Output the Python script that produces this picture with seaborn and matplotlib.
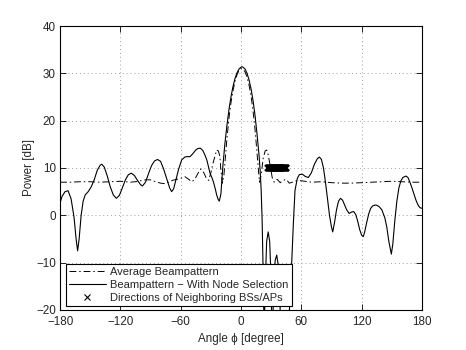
import numpy as np
import pandas as pd
import matplotlib
matplotlib.use("Agg")
import matplotlib.pyplot as plt
import seaborn as sns
from matplotlib.lines import Line2D

# =========================
# Data
# =========================
avg_angle = [-180, -170, -160, -150, -140, -130, -120, -110, -105, -100, -95, -90,
             -85, -80, -76, -72, -68, -64, -60, -56, -52, -49, -46, -43, -40, -37,
             -34, -32, -30, -27.5, -24.2, -22.5, -21, -20, -18.5, -17, -16, -14, -12,
             -10, -8, -6, -4, -2, 0, 2, 4, 6, 8, 10, 12, 14, 16, 17.5, 18.5, 20, 22,
             24, 25.5, 27, 29, 31, 33, 36, 39, 42, 45, 48, 51, 55, 60, 70, 80, 90,
             100, 110, 120, 130, 140, 150, 160, 170, 180]
avg_power = [7.0, 7.0, 7.1, 7.1, 7.0, 7.1, 7.2, 7.0, 7.1, 7.3, 7.5, 7.5,
             7.1, 6.8, 6.7, 7.0, 7.4, 7.6, 7.8, 8.2, 7.6, 7.1, 7.6, 8.8, 9.8, 9.0,
             7.6, 7.4, 9.0, 11.3, 13.8, 13.6, 12.4, 9.5, 6.8, 8.5, 11.0, 16.2, 20.5,
             23.8, 26.3, 28.3, 29.7, 30.6, 31.0, 30.9, 30.3, 29.2, 27.5, 25.2, 22.0,
             18.0, 13.0, 9.0, 7.0, 8.5, 12.0, 13.6, 13.8, 12.8, 10.5, 8.0, 7.0, 7.6,
             6.9, 7.4, 7.6, 6.8, 7.0, 7.3, 7.3, 7.0, 7.1, 6.9, 6.8, 6.8, 6.9, 7.0,
             7.1, 7.2, 7.1, 7.0, 7.0]

sel_angle = [-180, -178, -175, -172, -169, -166, -164, -162.5, -161, -159, -157, -155,
             -152, -149, -146, -143, -140, -138.5, -136, -133, -130, -127, -124, -121,
             -118, -115, -112, -109, -106, -103, -100, -98, -95, -92, -89, -86, -83,
             -80, -77, -74, -71, -69, -67, -65.6, -62, -59, -56, -54, -50.7, -48, -45,
             -43, -40.5, -38, -36, -34, -32, -30.8, -29, -27.5, -25.5, -24.2, -22.8,
             -21.6, -20, -19, -18, -16, -14, -12, -10, -8, -6, -4, -2, 0, 1, 2, 4, 6,
             8, 10, 12, 14, 16, 18, 19, 20, 21, 22, 23, 24.5, 25.5, 27, 28.5, 30, 31,
             32.5, 34, 35.5, 37, 39, 41, 44, 47, 49, 50.4, 52, 53.7, 56, 58, 61, 64,
             67, 70, 73, 76, 78, 80, 82, 84, 86, 88, 90, 91.2, 93, 95, 97, 99, 101,
             103, 105, 107.5, 110, 112, 114, 116, 118, 120, 121.6, 123, 125, 127, 129,
             131, 134, 137, 140, 143, 145, 147, 149.5, 151, 153, 155, 157, 159, 161,
             164, 166, 168, 170, 172, 174, 176, 178, 180]
sel_power = [2.6, 4.0, 5.0, 5.2, 3.5, -0.5, -5.0, -7.5, -5.0, 0.0, 3.0, 4.3,
             5.0, 6.0, 7.5, 9.5, 10.6, 10.8, 10.2, 8.3, 6.0, 4.3, 3.6, 4.2,
             5.8, 7.5, 8.6, 8.9, 8.4, 7.4, 6.5, 6.2, 7.0, 8.8, 10.5, 11.5, 11.8,
             11.4, 9.8, 7.8, 5.8, 5.0, 5.6, 6.8, 9.8, 11.7, 12.3, 12.4, 12.4, 13.0, 13.8,
             14.1, 14.2, 13.7, 12.8, 11.7, 10.0, 8.9, 8.0, 7.1, 5.5, 4.3, 3.4,
             3.0, 4.5, 7.5, 10.5, 15.2, 19.0, 22.3, 25.0, 27.2, 28.9, 30.1, 30.9, 31.3,
             31.4, 31.3, 30.9, 30.0, 28.6, 26.7, 24.2, 21.0, 17.0, 12.5, 9.5, 5.5, -1.0,
             -12.0, -25.0, -12.0, -5.5, -3.5, -5.5, -14.0, -30.0, -14.0, -9.5, -8.4,
             -10.5, -20.0, -30.0, -35.0, -25.0, -16.0, -10.1, -2.0, 5.3, 7.8, 8.6, 8.7,
             8.2, 8.0, 9.0, 10.8, 12.0, 12.3, 11.8, 10.0, 7.0, 3.5, 0.0, -2.5, -3.5,
             -1.5, 1.2, 3.0, 3.6, 3.2, 2.2, 1.2, 0.4, 0.7, 0.8, 0.2, -1.2, -3.0, -4.2,
             -4.5, -3.5, -1.5, 0.3, 1.5, 2.0, 2.2, 1.9, 1.2, -0.5, -2.5, -5.5, -8.2,
             -6.0, -1.0, 3.0, 5.8, 7.3, 8.0, 8.3, 8.0, 7.0, 5.8, 4.5, 3.2, 2.2, 1.6, 1.5]

nb_angle = [27, 27.5, 28, 28.5, 29, 29.5, 30, 30.5, 31, 31.5, 32, 32.5, 33, 33.5,
            34, 34.5, 35, 35.5, 36, 36.5, 37, 37.5, 38, 38.5, 39, 39.5, 40, 40.5,
            41, 41.5, 42, 42.5, 43, 43.5, 44, 44.5, 45]
nb_power = [10] * len(nb_angle)

x_ticks = [-180, -120, -60, 0, 60, 120, 180]
y_ticks = [-20, -10, 0, 10, 20, 30, 40]

# =========================
# Setup
# =========================
sns.set_theme(style="ticks")
plt.rcParams["font.family"] = ["Liberation Sans", "DejaVu Sans"]
plt.rcParams["axes.linewidth"] = 0.8
FS = 8.0

df_avg = pd.DataFrame({"angle": avg_angle, "power": avg_power})
df_sel = pd.DataFrame({"angle": sel_angle, "power": sel_power})
df_nb = pd.DataFrame({"angle": nb_angle, "power": nb_power})

fig = plt.figure(figsize=(4.66, 3.5), dpi=100)
ax = fig.add_axes([0.1288, 0.1143, 0.7768, 0.8114])

sns.lineplot(data=df_avg, x="angle", y="power", ax=ax, color="black",
             linewidth=0.7, sort=False, estimator=None)
ax.lines[-1].set_dashes([7, 3, 1.5, 3])
sns.lineplot(data=df_sel, x="angle", y="power", ax=ax, color="black",
             linewidth=0.8, sort=False, estimator=None)
ax.plot(df_nb["angle"], df_nb["power"], linestyle="none", marker="x",
        color="black", markersize=5, markeredgewidth=1.6)

# =========================
# Styling
# =========================
ax.set_xlim(-180, 180)
ax.set_ylim(-20, 40)
ax.set_xticks(x_ticks)
ax.set_yticks(y_ticks)
ax.set_xticklabels([str(t).replace("-", "\u2212") for t in x_ticks])
ax.set_yticklabels([str(t).replace("-", "\u2212") for t in y_ticks])
ax.tick_params(direction="in", length=4, width=0.6, labelsize=8.4,
               top=True, right=True, pad=3, color="black")
ax.tick_params(axis="x", pad=4)
ax.grid(True, linestyle=(0, (1, 3)), color="#a0a0a0", linewidth=0.7)
for s in ax.spines.values():
    s.set_color("black")
    s.set_visible(True)

ax.set_xlabel("Angle \u03d5 [degree]", fontsize=8.4, labelpad=4)
ax.set_ylabel("Power [dB]", fontsize=8.4, labelpad=1)

handles = [
    Line2D([], [], color="black", linewidth=0.7, dashes=[7, 3, 1.5, 3]),
    Line2D([], [], color="black", linewidth=0.8),
    Line2D([], [], color="black", linestyle="none", marker="x", markersize=4,
           markeredgewidth=0.8),
]
labels = ["Average Beampattern", "Beampattern \u2212 With Node Selection",
          "Directions of Neighboring BSs/APs"]
leg = ax.legend(handles, labels, loc="lower left", bbox_to_anchor=(0.016, 0.014),
                fontsize=FS, frameon=True, fancybox=False, framealpha=1,
                edgecolor="black", borderpad=0.3, labelspacing=0.25,
                handlelength=3.3, handletextpad=0.4, borderaxespad=0)
leg.get_frame().set_linewidth(0.8)

fig.savefig("out.png", dpi=100)
plt.close(fig)
